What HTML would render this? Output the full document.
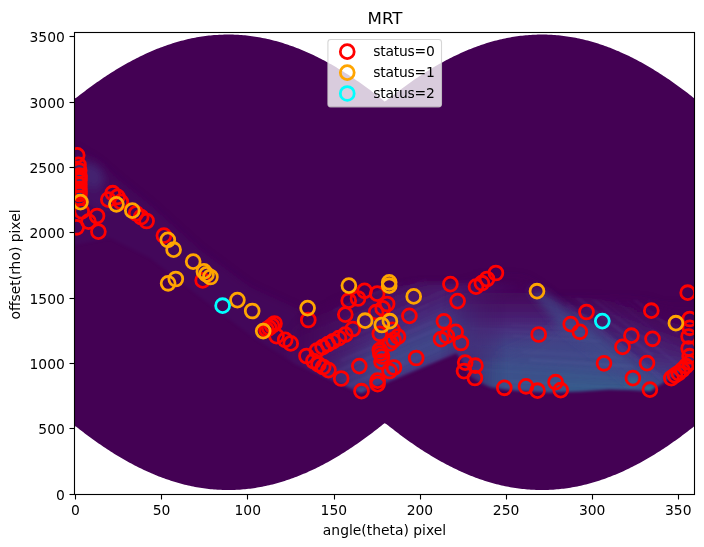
<!DOCTYPE html>
<html><head><meta charset="utf-8"><title>MRT</title>
<style>
html,body{margin:0;padding:0;background:#fff;}
svg{display:block;font-family:"DejaVu Sans","Liberation Sans",sans-serif;}
</style></head><body>
<svg width="704" height="547" viewBox="0 0 704 547">
<defs>
<clipPath id="ax"><rect x="74.5" y="32.5" width="620" height="462"/></clipPath>
<clipPath id="reg"><path d="M74.50,98.52 L76.22,97.83 L77.94,96.47 L79.67,95.12 L81.39,93.78 L83.11,92.46 L84.83,91.15 L86.56,89.85 L88.28,88.57 L90.00,87.30 L91.72,86.04 L93.44,84.79 L95.17,83.56 L96.89,82.34 L98.61,81.14 L100.33,79.95 L102.06,78.77 L103.78,77.61 L105.50,76.46 L107.22,75.33 L108.94,74.21 L110.67,73.10 L112.39,72.01 L114.11,70.93 L115.83,69.87 L117.56,68.82 L119.28,67.78 L121.00,66.77 L122.72,65.76 L124.44,64.77 L126.17,63.80 L127.89,62.84 L129.61,61.89 L131.33,60.96 L133.06,60.05 L134.78,59.15 L136.50,58.26 L138.22,57.39 L139.94,56.54 L141.67,55.70 L143.39,54.88 L145.11,54.07 L146.83,53.28 L148.56,52.51 L150.28,51.75 L152.00,51.00 L153.72,50.28 L155.44,49.56 L157.17,48.87 L158.89,48.19 L160.61,47.52 L162.33,46.88 L164.06,46.25 L165.78,45.63 L167.50,45.03 L169.22,44.45 L170.94,43.88 L172.67,43.33 L174.39,42.80 L176.11,42.28 L177.83,41.78 L179.56,41.29 L181.28,40.83 L183.00,40.38 L184.72,39.94 L186.44,39.52 L188.17,39.12 L189.89,38.74 L191.61,38.37 L193.33,38.02 L195.06,37.69 L196.78,37.37 L198.50,37.07 L200.22,36.78 L201.94,36.52 L203.67,36.27 L205.39,36.03 L207.11,35.82 L208.83,35.62 L210.56,35.44 L212.28,35.27 L214.00,35.12 L215.72,34.99 L217.44,34.88 L219.17,34.78 L220.89,34.70 L222.61,34.64 L224.33,34.59 L226.06,34.56 L227.78,34.55 L229.50,34.55 L231.22,34.58 L232.94,34.62 L234.67,34.67 L236.39,34.75 L238.11,34.84 L239.83,34.94 L241.56,35.07 L243.28,35.21 L245.00,35.37 L246.72,35.54 L248.44,35.73 L250.17,35.94 L251.89,36.17 L253.61,36.41 L255.33,36.67 L257.06,36.95 L258.78,37.24 L260.50,37.55 L262.22,37.88 L263.94,38.22 L265.67,38.58 L267.39,38.96 L269.11,39.35 L270.83,39.76 L272.56,40.19 L274.28,40.64 L276.00,41.10 L277.72,41.57 L279.44,42.07 L281.17,42.58 L282.89,43.11 L284.61,43.65 L286.33,44.21 L288.06,44.78 L289.78,45.38 L291.50,45.98 L293.22,46.61 L294.94,47.25 L296.67,47.91 L298.39,48.58 L300.11,49.27 L301.83,49.98 L303.56,50.70 L305.28,51.43 L307.00,52.19 L308.72,52.95 L310.44,53.74 L312.17,54.54 L313.89,55.35 L315.61,56.19 L317.33,57.03 L319.06,57.89 L320.78,58.77 L322.50,59.66 L324.22,60.57 L325.94,61.50 L327.67,62.43 L329.39,63.39 L331.11,64.36 L332.83,65.34 L334.56,66.34 L336.28,67.35 L338.00,68.38 L339.72,69.42 L341.44,70.48 L343.17,71.55 L344.89,72.63 L346.61,73.73 L348.33,74.85 L350.06,75.98 L351.78,77.12 L353.50,78.27 L355.22,79.45 L356.94,80.63 L358.67,81.83 L360.39,83.04 L362.11,84.26 L363.83,85.50 L365.56,86.75 L367.28,88.02 L369.00,89.30 L370.72,90.59 L372.44,91.89 L374.17,93.21 L375.89,94.54 L377.61,95.89 L379.33,97.24 L381.06,98.61 L382.78,99.99 L384.50,101.38 L386.22,100.69 L387.94,99.30 L389.67,97.92 L391.39,96.56 L393.11,95.21 L394.83,93.88 L396.56,92.55 L398.28,91.24 L400.00,89.94 L401.72,88.66 L403.44,87.39 L405.17,86.13 L406.89,84.88 L408.61,83.65 L410.33,82.43 L412.06,81.23 L413.78,80.04 L415.50,78.86 L417.22,77.69 L418.94,76.55 L420.67,75.41 L422.39,74.29 L424.11,73.18 L425.83,72.09 L427.56,71.01 L429.28,69.95 L431.00,68.90 L432.72,67.86 L434.44,66.84 L436.17,65.84 L437.89,64.85 L439.61,63.87 L441.33,62.91 L443.06,61.96 L444.78,61.03 L446.50,60.12 L448.22,59.22 L449.94,58.33 L451.67,57.46 L453.39,56.61 L455.11,55.77 L456.83,54.94 L458.56,54.14 L460.28,53.34 L462.00,52.57 L463.72,51.81 L465.44,51.06 L467.17,50.33 L468.89,49.62 L470.61,48.92 L472.33,48.24 L474.06,47.58 L475.78,46.93 L477.50,46.30 L479.22,45.68 L480.94,45.08 L482.67,44.49 L484.39,43.93 L486.11,43.37 L487.83,42.84 L489.56,42.32 L491.28,41.82 L493.00,41.33 L494.72,40.86 L496.44,40.41 L498.17,39.98 L499.89,39.56 L501.61,39.15 L503.33,38.77 L505.06,38.40 L506.78,38.05 L508.50,37.71 L510.22,37.39 L511.94,37.09 L513.67,36.81 L515.39,36.54 L517.11,36.29 L518.83,36.05 L520.56,35.84 L522.28,35.63 L524.00,35.45 L525.72,35.28 L527.44,35.13 L529.17,35.00 L530.89,34.89 L532.61,34.79 L534.33,34.71 L536.06,34.64 L537.78,34.59 L539.50,34.56 L541.22,34.55 L542.94,34.55 L544.67,34.57 L546.39,34.61 L548.11,34.67 L549.83,34.74 L551.56,34.83 L553.28,34.93 L555.00,35.06 L556.72,35.20 L558.44,35.35 L560.17,35.53 L561.89,35.72 L563.61,35.92 L565.33,36.15 L567.06,36.39 L568.78,36.65 L570.50,36.92 L572.22,37.22 L573.94,37.52 L575.67,37.85 L577.39,38.19 L579.11,38.55 L580.83,38.93 L582.56,39.32 L584.28,39.73 L586.00,40.16 L587.72,40.60 L589.44,41.06 L591.17,41.54 L592.89,42.03 L594.61,42.54 L596.33,43.06 L598.06,43.60 L599.78,44.16 L601.50,44.74 L603.22,45.33 L604.94,45.94 L606.67,46.56 L608.39,47.20 L610.11,47.85 L611.83,48.53 L613.56,49.21 L615.28,49.92 L617.00,50.64 L618.72,51.37 L620.44,52.13 L622.17,52.89 L623.89,53.68 L625.61,54.48 L627.33,55.29 L629.06,56.12 L630.78,56.97 L632.50,57.83 L634.22,58.70 L635.94,59.60 L637.67,60.50 L639.39,61.42 L641.11,62.36 L642.83,63.31 L644.56,64.28 L646.28,65.26 L648.00,66.26 L649.72,67.27 L651.44,68.30 L653.17,69.34 L654.89,70.40 L656.61,71.47 L658.33,72.55 L660.06,73.65 L661.78,74.76 L663.50,75.89 L665.22,77.03 L666.94,78.19 L668.67,79.36 L670.39,80.54 L672.11,81.74 L673.83,82.95 L675.56,84.18 L677.28,85.41 L679.00,86.67 L680.72,87.93 L682.44,89.21 L684.17,90.50 L685.89,91.80 L687.61,93.12 L689.33,94.45 L691.06,95.79 L692.78,97.15 L694.50,98.52 L694.50,426.05 L692.78,427.42 L691.06,428.78 L689.33,430.12 L687.61,431.45 L685.89,432.77 L684.17,434.07 L682.44,435.36 L680.72,436.64 L679.00,437.90 L677.28,439.16 L675.56,440.39 L673.83,441.62 L672.11,442.83 L670.39,444.03 L668.67,445.21 L666.94,446.38 L665.22,447.54 L663.50,448.68 L661.78,449.80 L660.06,450.92 L658.33,452.02 L656.61,453.10 L654.89,454.17 L653.17,455.23 L651.44,456.27 L649.72,457.30 L648.00,458.31 L646.28,459.31 L644.56,460.29 L642.83,461.26 L641.11,462.21 L639.39,463.15 L637.67,464.07 L635.94,464.97 L634.22,465.87 L632.50,466.74 L630.78,467.60 L629.06,468.45 L627.33,469.28 L625.61,470.09 L623.89,470.89 L622.17,471.68 L620.44,472.44 L618.72,473.20 L617.00,473.93 L615.28,474.65 L613.56,475.36 L611.83,476.04 L610.11,476.72 L608.39,477.37 L606.67,478.01 L604.94,478.63 L603.22,479.24 L601.50,479.83 L599.78,480.41 L598.06,480.97 L596.33,481.51 L594.61,482.03 L592.89,482.54 L591.17,483.03 L589.44,483.51 L587.72,483.97 L586.00,484.41 L584.28,484.84 L582.56,485.25 L580.83,485.64 L579.11,486.02 L577.39,486.38 L575.67,486.72 L573.94,487.05 L572.22,487.35 L570.50,487.65 L568.78,487.92 L567.06,488.18 L565.33,488.42 L563.61,488.65 L561.89,488.85 L560.17,489.04 L558.44,489.22 L556.72,489.37 L555.00,489.51 L553.28,489.64 L551.56,489.74 L549.83,489.83 L548.11,489.90 L546.39,489.96 L544.67,490.00 L542.94,490.02 L541.22,490.02 L539.50,490.01 L537.78,489.98 L536.06,489.93 L534.33,489.86 L532.61,489.78 L530.89,489.68 L529.17,489.57 L527.44,489.43 L525.72,489.29 L524.00,489.12 L522.28,488.94 L520.56,488.73 L518.83,488.52 L517.11,488.28 L515.39,488.03 L513.67,487.76 L511.94,487.48 L510.22,487.18 L508.50,486.86 L506.78,486.52 L505.06,486.17 L503.33,485.80 L501.61,485.42 L499.89,485.01 L498.17,484.59 L496.44,484.16 L494.72,483.71 L493.00,483.24 L491.28,482.75 L489.56,482.25 L487.83,481.73 L486.11,481.19 L484.39,480.64 L482.67,480.08 L480.94,479.49 L479.22,478.89 L477.50,478.27 L475.78,477.64 L474.06,476.99 L472.33,476.33 L470.61,475.65 L468.89,474.95 L467.17,474.24 L465.44,473.51 L463.72,472.76 L462.00,472.00 L460.28,471.22 L458.56,470.43 L456.83,469.62 L455.11,468.80 L453.39,467.96 L451.67,467.11 L449.94,466.24 L448.22,465.35 L446.50,464.45 L444.78,463.54 L443.06,462.61 L441.33,461.66 L439.61,460.70 L437.89,459.72 L436.17,458.73 L434.44,457.73 L432.72,456.71 L431.00,455.67 L429.28,454.62 L427.56,453.56 L425.83,452.48 L424.11,451.39 L422.39,450.28 L420.67,449.16 L418.94,448.02 L417.22,446.88 L415.50,445.71 L413.78,444.53 L412.06,443.34 L410.33,442.14 L408.61,440.92 L406.89,439.69 L405.17,438.44 L403.44,437.18 L401.72,435.91 L400.00,434.63 L398.28,433.33 L396.56,432.02 L394.83,430.69 L393.11,429.36 L391.39,428.01 L389.67,426.65 L387.94,425.27 L386.22,423.88 L384.50,423.19 L382.78,424.58 L381.06,425.96 L379.33,427.33 L377.61,428.68 L375.89,430.03 L374.17,431.36 L372.44,432.68 L370.72,433.98 L369.00,435.27 L367.28,436.55 L365.56,437.82 L363.83,439.07 L362.11,440.31 L360.39,441.53 L358.67,442.74 L356.94,443.94 L355.22,445.12 L353.50,446.30 L351.78,447.45 L350.06,448.59 L348.33,449.72 L346.61,450.84 L344.89,451.94 L343.17,453.02 L341.44,454.09 L339.72,455.15 L338.00,456.19 L336.28,457.22 L334.56,458.23 L332.83,459.23 L331.11,460.21 L329.39,461.18 L327.67,462.14 L325.94,463.07 L324.22,464.00 L322.50,464.91 L320.78,465.80 L319.06,466.68 L317.33,467.54 L315.61,468.38 L313.89,469.22 L312.17,470.03 L310.44,470.83 L308.72,471.62 L307.00,472.38 L305.28,473.14 L303.56,473.87 L301.83,474.59 L300.11,475.30 L298.39,475.99 L296.67,476.66 L294.94,477.32 L293.22,477.96 L291.50,478.58 L289.78,479.19 L288.06,479.79 L286.33,480.36 L284.61,480.92 L282.89,481.46 L281.17,481.99 L279.44,482.50 L277.72,483.00 L276.00,483.47 L274.28,483.93 L272.56,484.38 L270.83,484.81 L269.11,485.22 L267.39,485.61 L265.67,485.99 L263.94,486.35 L262.22,486.69 L260.50,487.02 L258.78,487.33 L257.06,487.62 L255.33,487.90 L253.61,488.16 L251.89,488.40 L250.17,488.63 L248.44,488.84 L246.72,489.03 L245.00,489.20 L243.28,489.36 L241.56,489.50 L239.83,489.63 L238.11,489.73 L236.39,489.82 L234.67,489.90 L232.94,489.95 L231.22,489.99 L229.50,490.01 L227.78,490.02 L226.06,490.01 L224.33,489.98 L222.61,489.93 L220.89,489.87 L219.17,489.79 L217.44,489.69 L215.72,489.58 L214.00,489.45 L212.28,489.30 L210.56,489.13 L208.83,488.95 L207.11,488.75 L205.39,488.54 L203.67,488.30 L201.94,488.05 L200.22,487.79 L198.50,487.50 L196.78,487.20 L195.06,486.88 L193.33,486.55 L191.61,486.20 L189.89,485.83 L188.17,485.45 L186.44,485.05 L184.72,484.63 L183.00,484.19 L181.28,483.74 L179.56,483.27 L177.83,482.79 L176.11,482.29 L174.39,481.77 L172.67,481.24 L170.94,480.69 L169.22,480.12 L167.50,479.54 L165.78,478.94 L164.06,478.32 L162.33,477.69 L160.61,477.05 L158.89,476.38 L157.17,475.70 L155.44,475.01 L153.72,474.29 L152.00,473.57 L150.28,472.82 L148.56,472.06 L146.83,471.29 L145.11,470.50 L143.39,469.69 L141.67,468.87 L139.94,468.03 L138.22,467.18 L136.50,466.31 L134.78,465.42 L133.06,464.52 L131.33,463.61 L129.61,462.68 L127.89,461.73 L126.17,460.77 L124.44,459.80 L122.72,458.81 L121.00,457.80 L119.28,456.79 L117.56,455.75 L115.83,454.70 L114.11,453.64 L112.39,452.56 L110.67,451.47 L108.94,450.36 L107.22,449.24 L105.50,448.11 L103.78,446.96 L102.06,445.80 L100.33,444.62 L98.61,443.43 L96.89,442.23 L95.17,441.01 L93.44,439.78 L91.72,438.53 L90.00,437.27 L88.28,436.00 L86.56,434.72 L84.83,433.42 L83.11,432.11 L81.39,430.79 L79.67,429.45 L77.94,428.10 L76.22,426.74 L74.50,426.05Z"/></clipPath>
<mask id="sharpm" maskUnits="userSpaceOnUse" x="0" y="0" width="704" height="547"><polygon points="74.5,0.0 694.5,0.0 694.5,363.0 650.0,391.2 630.0,390.0 609.0,389.5 580.0,391.5 550.0,392.5 520.0,391.0 505.0,389.5 490.0,387.3 485.0,385.0 478.0,381.5 471.0,377.0 465.0,367.0 456.6,353.2 361.0,393.5 295.0,364.0 250.0,335.0 200.0,297.0 150.0,258.0 110.0,238.0 74.5,245.0" fill="#fff" filter="url(#b1)"/></mask>

<linearGradient id="gR2m" gradientUnits="userSpaceOnUse" x1="0" y1="294" x2="0" y2="340"><stop offset="0" stop-color="#fff" stop-opacity="0"/><stop offset="1" stop-color="#fff" stop-opacity="1"/></linearGradient>
<mask id="mR2" maskUnits="userSpaceOnUse" x="0" y="0" width="704" height="547"><rect x="0" y="0" width="704" height="547" fill="url(#gR2m)"/></mask>
<linearGradient id="gMm" gradientUnits="userSpaceOnUse" x1="446" y1="0" x2="506" y2="0"><stop offset="0" stop-color="#fff" stop-opacity="0.1"/><stop offset="1" stop-color="#fff" stop-opacity="1"/></linearGradient>
<mask id="mM" maskUnits="userSpaceOnUse" x="0" y="0" width="704" height="547"><rect x="0" y="0" width="704" height="547" fill="url(#gMm)"/></mask>
<linearGradient id="gWm" gradientUnits="userSpaceOnUse" x1="288" y1="0" x2="520" y2="0"><stop offset="0" stop-color="#fff" stop-opacity="0.15"/><stop offset="0.4" stop-color="#fff" stop-opacity="1"/><stop offset="0.66" stop-color="#fff" stop-opacity="1"/><stop offset="1" stop-color="#fff" stop-opacity="0"/></linearGradient>
<mask id="mW" maskUnits="userSpaceOnUse" x="0" y="0" width="704" height="547"><rect x="0" y="0" width="704" height="547" fill="url(#gWm)"/></mask>
<linearGradient id="gW" gradientUnits="userSpaceOnUse" x1="380" y1="280" x2="422.6" y2="381.4">
<stop offset="0" stop-color="#460a5d" stop-opacity="0"/><stop offset="0.16" stop-color="#470f62" stop-opacity="1"/><stop offset="0.32" stop-color="#481b6d" stop-opacity="1"/><stop offset="0.46" stop-color="#472a7a" stop-opacity="1"/><stop offset="0.58" stop-color="#433b84" stop-opacity="1"/><stop offset="0.70" stop-color="#3f4688" stop-opacity="1"/><stop offset="0.80" stop-color="#404387" stop-opacity="1"/><stop offset="0.89" stop-color="#453681" stop-opacity="1"/><stop offset="1" stop-color="#482475" stop-opacity="1"/>
</linearGradient>
<linearGradient id="gM" gradientUnits="userSpaceOnUse" x1="0" y1="278" x2="0" y2="393">
<stop offset="0" stop-color="#440154" stop-opacity="0"/><stop offset="0.16" stop-color="#460a5d" stop-opacity="1"/><stop offset="0.29" stop-color="#47186a" stop-opacity="1"/><stop offset="0.42" stop-color="#48287a" stop-opacity="1"/><stop offset="0.52" stop-color="#443a83" stop-opacity="1"/><stop offset="0.63" stop-color="#3f4688" stop-opacity="1"/><stop offset="0.8" stop-color="#3d4c8a" stop-opacity="1"/><stop offset="1" stop-color="#3d4c8a" stop-opacity="1"/>
</linearGradient>
<linearGradient id="gR" gradientUnits="userSpaceOnUse" x1="0" y1="300" x2="0" y2="393">
<stop offset="0" stop-color="#440154" stop-opacity="0"/><stop offset="0.4" stop-color="#481467" stop-opacity="0.5"/><stop offset="0.6" stop-color="#482475" stop-opacity="0.7"/><stop offset="0.75" stop-color="#453781" stop-opacity="0.8"/><stop offset="0.88" stop-color="#404588" stop-opacity="0.9"/><stop offset="1" stop-color="#3d4d8a" stop-opacity="1"/>
</linearGradient>
<linearGradient id="gR2" gradientUnits="userSpaceOnUse" x1="600" y1="340" x2="642.8" y2="284.6">
<stop offset="0" stop-color="#433d84" stop-opacity="1"/><stop offset="0.2" stop-color="#46307e" stop-opacity="1"/><stop offset="0.5" stop-color="#482173" stop-opacity="0.9"/><stop offset="0.8" stop-color="#470d60" stop-opacity="0.6"/><stop offset="1" stop-color="#440154" stop-opacity="0"/>
</linearGradient>

<filter id="b05" x="-5%" y="-5%" width="110%" height="110%"><feGaussianBlur stdDeviation="1.0"/></filter>
<filter id="b1" x="-5%" y="-5%" width="110%" height="110%"><feGaussianBlur stdDeviation="1.8"/></filter>
<filter id="b2" x="-30%" y="-30%" width="160%" height="160%"><feGaussianBlur stdDeviation="2"/></filter>
<filter id="b3" x="-10%" y="-10%" width="120%" height="120%"><feGaussianBlur stdDeviation="3"/></filter>
<filter id="b6" x="-10%" y="-10%" width="120%" height="120%"><feGaussianBlur stdDeviation="6"/></filter>
<filter id="b4" x="-10%" y="-10%" width="120%" height="120%"><feGaussianBlur stdDeviation="4"/></filter>
<filter id="b8" x="-20%" y="-20%" width="140%" height="140%"><feGaussianBlur stdDeviation="8"/></filter>
</defs>
<rect width="704" height="547" fill="#ffffff"/>
<g clip-path="url(#ax)">
<path d="M74.50,98.52 L76.22,97.83 L77.94,96.47 L79.67,95.12 L81.39,93.78 L83.11,92.46 L84.83,91.15 L86.56,89.85 L88.28,88.57 L90.00,87.30 L91.72,86.04 L93.44,84.79 L95.17,83.56 L96.89,82.34 L98.61,81.14 L100.33,79.95 L102.06,78.77 L103.78,77.61 L105.50,76.46 L107.22,75.33 L108.94,74.21 L110.67,73.10 L112.39,72.01 L114.11,70.93 L115.83,69.87 L117.56,68.82 L119.28,67.78 L121.00,66.77 L122.72,65.76 L124.44,64.77 L126.17,63.80 L127.89,62.84 L129.61,61.89 L131.33,60.96 L133.06,60.05 L134.78,59.15 L136.50,58.26 L138.22,57.39 L139.94,56.54 L141.67,55.70 L143.39,54.88 L145.11,54.07 L146.83,53.28 L148.56,52.51 L150.28,51.75 L152.00,51.00 L153.72,50.28 L155.44,49.56 L157.17,48.87 L158.89,48.19 L160.61,47.52 L162.33,46.88 L164.06,46.25 L165.78,45.63 L167.50,45.03 L169.22,44.45 L170.94,43.88 L172.67,43.33 L174.39,42.80 L176.11,42.28 L177.83,41.78 L179.56,41.29 L181.28,40.83 L183.00,40.38 L184.72,39.94 L186.44,39.52 L188.17,39.12 L189.89,38.74 L191.61,38.37 L193.33,38.02 L195.06,37.69 L196.78,37.37 L198.50,37.07 L200.22,36.78 L201.94,36.52 L203.67,36.27 L205.39,36.03 L207.11,35.82 L208.83,35.62 L210.56,35.44 L212.28,35.27 L214.00,35.12 L215.72,34.99 L217.44,34.88 L219.17,34.78 L220.89,34.70 L222.61,34.64 L224.33,34.59 L226.06,34.56 L227.78,34.55 L229.50,34.55 L231.22,34.58 L232.94,34.62 L234.67,34.67 L236.39,34.75 L238.11,34.84 L239.83,34.94 L241.56,35.07 L243.28,35.21 L245.00,35.37 L246.72,35.54 L248.44,35.73 L250.17,35.94 L251.89,36.17 L253.61,36.41 L255.33,36.67 L257.06,36.95 L258.78,37.24 L260.50,37.55 L262.22,37.88 L263.94,38.22 L265.67,38.58 L267.39,38.96 L269.11,39.35 L270.83,39.76 L272.56,40.19 L274.28,40.64 L276.00,41.10 L277.72,41.57 L279.44,42.07 L281.17,42.58 L282.89,43.11 L284.61,43.65 L286.33,44.21 L288.06,44.78 L289.78,45.38 L291.50,45.98 L293.22,46.61 L294.94,47.25 L296.67,47.91 L298.39,48.58 L300.11,49.27 L301.83,49.98 L303.56,50.70 L305.28,51.43 L307.00,52.19 L308.72,52.95 L310.44,53.74 L312.17,54.54 L313.89,55.35 L315.61,56.19 L317.33,57.03 L319.06,57.89 L320.78,58.77 L322.50,59.66 L324.22,60.57 L325.94,61.50 L327.67,62.43 L329.39,63.39 L331.11,64.36 L332.83,65.34 L334.56,66.34 L336.28,67.35 L338.00,68.38 L339.72,69.42 L341.44,70.48 L343.17,71.55 L344.89,72.63 L346.61,73.73 L348.33,74.85 L350.06,75.98 L351.78,77.12 L353.50,78.27 L355.22,79.45 L356.94,80.63 L358.67,81.83 L360.39,83.04 L362.11,84.26 L363.83,85.50 L365.56,86.75 L367.28,88.02 L369.00,89.30 L370.72,90.59 L372.44,91.89 L374.17,93.21 L375.89,94.54 L377.61,95.89 L379.33,97.24 L381.06,98.61 L382.78,99.99 L384.50,101.38 L386.22,100.69 L387.94,99.30 L389.67,97.92 L391.39,96.56 L393.11,95.21 L394.83,93.88 L396.56,92.55 L398.28,91.24 L400.00,89.94 L401.72,88.66 L403.44,87.39 L405.17,86.13 L406.89,84.88 L408.61,83.65 L410.33,82.43 L412.06,81.23 L413.78,80.04 L415.50,78.86 L417.22,77.69 L418.94,76.55 L420.67,75.41 L422.39,74.29 L424.11,73.18 L425.83,72.09 L427.56,71.01 L429.28,69.95 L431.00,68.90 L432.72,67.86 L434.44,66.84 L436.17,65.84 L437.89,64.85 L439.61,63.87 L441.33,62.91 L443.06,61.96 L444.78,61.03 L446.50,60.12 L448.22,59.22 L449.94,58.33 L451.67,57.46 L453.39,56.61 L455.11,55.77 L456.83,54.94 L458.56,54.14 L460.28,53.34 L462.00,52.57 L463.72,51.81 L465.44,51.06 L467.17,50.33 L468.89,49.62 L470.61,48.92 L472.33,48.24 L474.06,47.58 L475.78,46.93 L477.50,46.30 L479.22,45.68 L480.94,45.08 L482.67,44.49 L484.39,43.93 L486.11,43.37 L487.83,42.84 L489.56,42.32 L491.28,41.82 L493.00,41.33 L494.72,40.86 L496.44,40.41 L498.17,39.98 L499.89,39.56 L501.61,39.15 L503.33,38.77 L505.06,38.40 L506.78,38.05 L508.50,37.71 L510.22,37.39 L511.94,37.09 L513.67,36.81 L515.39,36.54 L517.11,36.29 L518.83,36.05 L520.56,35.84 L522.28,35.63 L524.00,35.45 L525.72,35.28 L527.44,35.13 L529.17,35.00 L530.89,34.89 L532.61,34.79 L534.33,34.71 L536.06,34.64 L537.78,34.59 L539.50,34.56 L541.22,34.55 L542.94,34.55 L544.67,34.57 L546.39,34.61 L548.11,34.67 L549.83,34.74 L551.56,34.83 L553.28,34.93 L555.00,35.06 L556.72,35.20 L558.44,35.35 L560.17,35.53 L561.89,35.72 L563.61,35.92 L565.33,36.15 L567.06,36.39 L568.78,36.65 L570.50,36.92 L572.22,37.22 L573.94,37.52 L575.67,37.85 L577.39,38.19 L579.11,38.55 L580.83,38.93 L582.56,39.32 L584.28,39.73 L586.00,40.16 L587.72,40.60 L589.44,41.06 L591.17,41.54 L592.89,42.03 L594.61,42.54 L596.33,43.06 L598.06,43.60 L599.78,44.16 L601.50,44.74 L603.22,45.33 L604.94,45.94 L606.67,46.56 L608.39,47.20 L610.11,47.85 L611.83,48.53 L613.56,49.21 L615.28,49.92 L617.00,50.64 L618.72,51.37 L620.44,52.13 L622.17,52.89 L623.89,53.68 L625.61,54.48 L627.33,55.29 L629.06,56.12 L630.78,56.97 L632.50,57.83 L634.22,58.70 L635.94,59.60 L637.67,60.50 L639.39,61.42 L641.11,62.36 L642.83,63.31 L644.56,64.28 L646.28,65.26 L648.00,66.26 L649.72,67.27 L651.44,68.30 L653.17,69.34 L654.89,70.40 L656.61,71.47 L658.33,72.55 L660.06,73.65 L661.78,74.76 L663.50,75.89 L665.22,77.03 L666.94,78.19 L668.67,79.36 L670.39,80.54 L672.11,81.74 L673.83,82.95 L675.56,84.18 L677.28,85.41 L679.00,86.67 L680.72,87.93 L682.44,89.21 L684.17,90.50 L685.89,91.80 L687.61,93.12 L689.33,94.45 L691.06,95.79 L692.78,97.15 L694.50,98.52 L694.50,426.05 L692.78,427.42 L691.06,428.78 L689.33,430.12 L687.61,431.45 L685.89,432.77 L684.17,434.07 L682.44,435.36 L680.72,436.64 L679.00,437.90 L677.28,439.16 L675.56,440.39 L673.83,441.62 L672.11,442.83 L670.39,444.03 L668.67,445.21 L666.94,446.38 L665.22,447.54 L663.50,448.68 L661.78,449.80 L660.06,450.92 L658.33,452.02 L656.61,453.10 L654.89,454.17 L653.17,455.23 L651.44,456.27 L649.72,457.30 L648.00,458.31 L646.28,459.31 L644.56,460.29 L642.83,461.26 L641.11,462.21 L639.39,463.15 L637.67,464.07 L635.94,464.97 L634.22,465.87 L632.50,466.74 L630.78,467.60 L629.06,468.45 L627.33,469.28 L625.61,470.09 L623.89,470.89 L622.17,471.68 L620.44,472.44 L618.72,473.20 L617.00,473.93 L615.28,474.65 L613.56,475.36 L611.83,476.04 L610.11,476.72 L608.39,477.37 L606.67,478.01 L604.94,478.63 L603.22,479.24 L601.50,479.83 L599.78,480.41 L598.06,480.97 L596.33,481.51 L594.61,482.03 L592.89,482.54 L591.17,483.03 L589.44,483.51 L587.72,483.97 L586.00,484.41 L584.28,484.84 L582.56,485.25 L580.83,485.64 L579.11,486.02 L577.39,486.38 L575.67,486.72 L573.94,487.05 L572.22,487.35 L570.50,487.65 L568.78,487.92 L567.06,488.18 L565.33,488.42 L563.61,488.65 L561.89,488.85 L560.17,489.04 L558.44,489.22 L556.72,489.37 L555.00,489.51 L553.28,489.64 L551.56,489.74 L549.83,489.83 L548.11,489.90 L546.39,489.96 L544.67,490.00 L542.94,490.02 L541.22,490.02 L539.50,490.01 L537.78,489.98 L536.06,489.93 L534.33,489.86 L532.61,489.78 L530.89,489.68 L529.17,489.57 L527.44,489.43 L525.72,489.29 L524.00,489.12 L522.28,488.94 L520.56,488.73 L518.83,488.52 L517.11,488.28 L515.39,488.03 L513.67,487.76 L511.94,487.48 L510.22,487.18 L508.50,486.86 L506.78,486.52 L505.06,486.17 L503.33,485.80 L501.61,485.42 L499.89,485.01 L498.17,484.59 L496.44,484.16 L494.72,483.71 L493.00,483.24 L491.28,482.75 L489.56,482.25 L487.83,481.73 L486.11,481.19 L484.39,480.64 L482.67,480.08 L480.94,479.49 L479.22,478.89 L477.50,478.27 L475.78,477.64 L474.06,476.99 L472.33,476.33 L470.61,475.65 L468.89,474.95 L467.17,474.24 L465.44,473.51 L463.72,472.76 L462.00,472.00 L460.28,471.22 L458.56,470.43 L456.83,469.62 L455.11,468.80 L453.39,467.96 L451.67,467.11 L449.94,466.24 L448.22,465.35 L446.50,464.45 L444.78,463.54 L443.06,462.61 L441.33,461.66 L439.61,460.70 L437.89,459.72 L436.17,458.73 L434.44,457.73 L432.72,456.71 L431.00,455.67 L429.28,454.62 L427.56,453.56 L425.83,452.48 L424.11,451.39 L422.39,450.28 L420.67,449.16 L418.94,448.02 L417.22,446.88 L415.50,445.71 L413.78,444.53 L412.06,443.34 L410.33,442.14 L408.61,440.92 L406.89,439.69 L405.17,438.44 L403.44,437.18 L401.72,435.91 L400.00,434.63 L398.28,433.33 L396.56,432.02 L394.83,430.69 L393.11,429.36 L391.39,428.01 L389.67,426.65 L387.94,425.27 L386.22,423.88 L384.50,423.19 L382.78,424.58 L381.06,425.96 L379.33,427.33 L377.61,428.68 L375.89,430.03 L374.17,431.36 L372.44,432.68 L370.72,433.98 L369.00,435.27 L367.28,436.55 L365.56,437.82 L363.83,439.07 L362.11,440.31 L360.39,441.53 L358.67,442.74 L356.94,443.94 L355.22,445.12 L353.50,446.30 L351.78,447.45 L350.06,448.59 L348.33,449.72 L346.61,450.84 L344.89,451.94 L343.17,453.02 L341.44,454.09 L339.72,455.15 L338.00,456.19 L336.28,457.22 L334.56,458.23 L332.83,459.23 L331.11,460.21 L329.39,461.18 L327.67,462.14 L325.94,463.07 L324.22,464.00 L322.50,464.91 L320.78,465.80 L319.06,466.68 L317.33,467.54 L315.61,468.38 L313.89,469.22 L312.17,470.03 L310.44,470.83 L308.72,471.62 L307.00,472.38 L305.28,473.14 L303.56,473.87 L301.83,474.59 L300.11,475.30 L298.39,475.99 L296.67,476.66 L294.94,477.32 L293.22,477.96 L291.50,478.58 L289.78,479.19 L288.06,479.79 L286.33,480.36 L284.61,480.92 L282.89,481.46 L281.17,481.99 L279.44,482.50 L277.72,483.00 L276.00,483.47 L274.28,483.93 L272.56,484.38 L270.83,484.81 L269.11,485.22 L267.39,485.61 L265.67,485.99 L263.94,486.35 L262.22,486.69 L260.50,487.02 L258.78,487.33 L257.06,487.62 L255.33,487.90 L253.61,488.16 L251.89,488.40 L250.17,488.63 L248.44,488.84 L246.72,489.03 L245.00,489.20 L243.28,489.36 L241.56,489.50 L239.83,489.63 L238.11,489.73 L236.39,489.82 L234.67,489.90 L232.94,489.95 L231.22,489.99 L229.50,490.01 L227.78,490.02 L226.06,490.01 L224.33,489.98 L222.61,489.93 L220.89,489.87 L219.17,489.79 L217.44,489.69 L215.72,489.58 L214.00,489.45 L212.28,489.30 L210.56,489.13 L208.83,488.95 L207.11,488.75 L205.39,488.54 L203.67,488.30 L201.94,488.05 L200.22,487.79 L198.50,487.50 L196.78,487.20 L195.06,486.88 L193.33,486.55 L191.61,486.20 L189.89,485.83 L188.17,485.45 L186.44,485.05 L184.72,484.63 L183.00,484.19 L181.28,483.74 L179.56,483.27 L177.83,482.79 L176.11,482.29 L174.39,481.77 L172.67,481.24 L170.94,480.69 L169.22,480.12 L167.50,479.54 L165.78,478.94 L164.06,478.32 L162.33,477.69 L160.61,477.05 L158.89,476.38 L157.17,475.70 L155.44,475.01 L153.72,474.29 L152.00,473.57 L150.28,472.82 L148.56,472.06 L146.83,471.29 L145.11,470.50 L143.39,469.69 L141.67,468.87 L139.94,468.03 L138.22,467.18 L136.50,466.31 L134.78,465.42 L133.06,464.52 L131.33,463.61 L129.61,462.68 L127.89,461.73 L126.17,460.77 L124.44,459.80 L122.72,458.81 L121.00,457.80 L119.28,456.79 L117.56,455.75 L115.83,454.70 L114.11,453.64 L112.39,452.56 L110.67,451.47 L108.94,450.36 L107.22,449.24 L105.50,448.11 L103.78,446.96 L102.06,445.80 L100.33,444.62 L98.61,443.43 L96.89,442.23 L95.17,441.01 L93.44,439.78 L91.72,438.53 L90.00,437.27 L88.28,436.00 L86.56,434.72 L84.83,433.42 L83.11,432.11 L81.39,430.79 L79.67,429.45 L77.94,428.10 L76.22,426.74 L74.50,426.05Z" fill="#440154"/>

<g mask="url(#sharpm)">
<g filter="url(#b4)">
<polygon points="74.5,148.0 95.0,160.0 120.0,181.0 150.0,205.0 200.0,250.0 250.0,287.0 300.0,310.0 300.0,380.0 250.0,350.0 200.0,310.0 150.0,270.0 110.0,250.0 60.0,255.0 60.0,148.0" fill="#472a7a" opacity="0.16"/>
<ellipse cx="92" cy="176" rx="11" ry="14" fill="#453781" opacity="0.55" transform="rotate(-35 92 176)"/>
<ellipse cx="78" cy="182" rx="4" ry="24" fill="#3e4989" opacity="0.9"/>
<ellipse cx="100" cy="200" rx="18" ry="9" fill="#472a7a" opacity="0.3" transform="rotate(25 100 200)"/>
</g>
<g filter="url(#b3)" mask="url(#mW)">
<polygon points="290.0,380.0 361.0,410.0 470.0,372.0 530.0,410.0 530.0,283.0 420.0,283.0 350.0,293.0 300.0,318.0 285.0,340.0" fill="url(#gW)"/>
</g>
<g filter="url(#b3)">
<polygon points="536,290 700,417 720,417 720,290" fill="url(#gR2)" mask="url(#mR2)"/>
<polygon points="480.0,283.0 560.0,430.0 720.0,430.0 720.0,296.0 600.0,298.0 540.0,286.0" fill="url(#gR)"/>
</g>
<g mask="url(#mM)">
<g filter="url(#b6)">
<polygon points="452.0,330.0 452.0,430.0 700.0,430.0 676.0,398.0 510.0,270.0 480.0,280.0 456.0,288.0" fill="url(#gM)"/>
</g>
<g filter="url(#b6)">
<polygon points="482,364 520,364 580,368 630,376 668,396 660,420 474,420" fill="#365d8d" opacity="0.8"/>
<polygon points="556,374 600,376 640,381 668,397 660,420 556,420" fill="#2f6b8e" opacity="0.6"/>
</g>
<g filter="url(#b6)">
<polygon points="500,356 540,340 566,318 588,322 664,392 500,392" fill="#3f4688" opacity="0.45"/>
</g>
</g>
<g filter="url(#b4)">
<polygon points="528,288 545,292 672,392 640,392 600,358 560,328" fill="#3f4889" opacity="0.7"/>
</g>
<g filter="url(#b2)">
<ellipse cx="633" cy="382" rx="7" ry="5" fill="#2d708e" opacity="0.8"/>
<ellipse cx="650" cy="390" rx="7" ry="4" fill="#26828e" opacity="0.9"/>
<ellipse cx="361" cy="391" rx="6" ry="3" fill="#3b5a8c" opacity="0.8"/>
</g>

<clipPath id="cw"><polygon points="300.0,322.0 350.0,292.0 420.0,279.0 458.0,280.0 458.0,354.0 361.0,393.0 295.0,364.0"/></clipPath>
<clipPath id="cm"><polygon points="458.0,290.0 480.0,280.0 510.0,272.0 540.0,294.0 663.0,389.0 650.0,391.0 560.0,392.0 500.0,388.0 478.0,381.0 458.0,354.0"/></clipPath>
<clipPath id="cr"><polygon points="540.0,294.0 600.0,300.0 694.5,300.0 694.5,363.0 650.0,391.0"/></clipPath>
<g stroke="#7a80c8" fill="none" filter="url(#b05)">
<g clip-path="url(#cw)"><line x1="333.4" y1="310.5" x2="455.8" y2="259.1" stroke-opacity="0.06" stroke-width="3.0"/><line x1="348.2" y1="312.1" x2="447.7" y2="270.3" stroke-opacity="0.09" stroke-width="1.0"/><line x1="309.8" y1="332.0" x2="428.4" y2="282.2" stroke-opacity="0.05" stroke-width="1.0"/><line x1="350.4" y1="321.3" x2="423.8" y2="290.5" stroke-opacity="0.07" stroke-width="1.0"/><line x1="298.8" y1="352.6" x2="447.3" y2="290.2" stroke-opacity="0.04" stroke-width="3.0"/><line x1="320.1" y1="350.0" x2="429.0" y2="304.3" stroke-opacity="0.06" stroke-width="2.4"/><line x1="301.9" y1="364.2" x2="427.2" y2="311.6" stroke-opacity="0.07" stroke-width="1.6"/><line x1="328.4" y1="357.3" x2="424.5" y2="317.0" stroke-opacity="0.04" stroke-width="1.0"/><line x1="340.6" y1="360.5" x2="433.3" y2="321.6" stroke-opacity="0.07" stroke-width="3.0"/><line x1="310.3" y1="382.3" x2="449.7" y2="323.8" stroke-opacity="0.09" stroke-width="2.4"/><line x1="326.1" y1="381.3" x2="409.8" y2="346.2" stroke-opacity="0.04" stroke-width="2.4"/><line x1="302.8" y1="397.3" x2="436.0" y2="341.4" stroke-opacity="0.09" stroke-width="1.0"/><line x1="320.2" y1="396.7" x2="404.8" y2="361.1" stroke-opacity="0.06" stroke-width="3.0"/><line x1="315.5" y1="401.0" x2="439.9" y2="348.8" stroke-opacity="0.07" stroke-width="2.4"/><line x1="344.2" y1="398.0" x2="405.8" y2="372.2" stroke-opacity="0.05" stroke-width="1.0"/></g>
<g clip-path="url(#cm)" stroke="#6f90c0"><line x1="512.3" y1="317.4" x2="647.0" y2="325.5" stroke-opacity="0.04" stroke-width="1.0"/><line x1="511.2" y1="324.9" x2="604.2" y2="330.5" stroke-opacity="0.05" stroke-width="2.4"/><line x1="470.5" y1="328.1" x2="661.3" y2="339.6" stroke-opacity="0.05" stroke-width="2.4"/><line x1="512.8" y1="335.9" x2="640.5" y2="343.6" stroke-opacity="0.09" stroke-width="1.6"/><line x1="470.3" y1="345.5" x2="640.2" y2="355.7" stroke-opacity="0.05" stroke-width="1.0"/><line x1="522.1" y1="351.8" x2="649.3" y2="359.4" stroke-opacity="0.06" stroke-width="3.0"/><line x1="529.1" y1="360.0" x2="658.8" y2="367.8" stroke-opacity="0.09" stroke-width="3.0"/><line x1="458.9" y1="361.4" x2="608.3" y2="370.4" stroke-opacity="0.06" stroke-width="1.6"/><line x1="468.8" y1="369.0" x2="630.3" y2="378.7" stroke-opacity="0.09" stroke-width="1.0"/><line x1="509.2" y1="381.0" x2="631.8" y2="388.4" stroke-opacity="0.09" stroke-width="1.6"/></g>
<g clip-path="url(#cr)"><line x1="590.4" y1="255.3" x2="656.3" y2="306.1" stroke-opacity="0.04" stroke-width="3.0"/><line x1="562.3" y1="244.2" x2="677.9" y2="333.3" stroke-opacity="0.07" stroke-width="3.0"/><line x1="550.7" y1="241.9" x2="644.9" y2="314.4" stroke-opacity="0.05" stroke-width="1.0"/><line x1="573.6" y1="268.3" x2="694.3" y2="361.2" stroke-opacity="0.04" stroke-width="2.4"/><line x1="593.1" y1="293.1" x2="665.6" y2="348.9" stroke-opacity="0.07" stroke-width="1.0"/><line x1="548.3" y1="264.6" x2="685.9" y2="370.5" stroke-opacity="0.06" stroke-width="3.0"/><line x1="546.9" y1="274.2" x2="652.5" y2="355.5" stroke-opacity="0.09" stroke-width="3.0"/><line x1="567.1" y1="302.6" x2="695.2" y2="401.3" stroke-opacity="0.05" stroke-width="3.0"/><line x1="566.8" y1="306.1" x2="661.2" y2="378.8" stroke-opacity="0.09" stroke-width="2.4"/></g>
</g>

</g>

<g fill="none" stroke-width="2.78">
<g stroke="#ff0000"><circle cx="77.2" cy="155.3" r="6.94"/><circle cx="78.5" cy="164.9" r="6.94"/><circle cx="79.2" cy="170.5" r="6.94"/><circle cx="79.4" cy="175.5" r="6.94"/><circle cx="79.4" cy="178.0" r="6.94"/><circle cx="79.4" cy="180.3" r="6.94"/><circle cx="79.4" cy="184.5" r="6.94"/><circle cx="79.4" cy="189.0" r="6.94"/><circle cx="79.4" cy="191.5" r="6.94"/><circle cx="79.4" cy="194.0" r="6.94"/><circle cx="79.2" cy="198.0" r="6.94"/><circle cx="81.7" cy="211.3" r="6.94"/><circle cx="88.5" cy="221.7" r="6.94"/><circle cx="97.0" cy="216.0" r="6.94"/><circle cx="98.4" cy="231.6" r="6.94"/><circle cx="76.7" cy="227.3" r="6.94"/><circle cx="112.7" cy="193.2" r="6.94"/><circle cx="108.3" cy="199.6" r="6.94"/><circle cx="117.5" cy="196.9" r="6.94"/><circle cx="120.8" cy="201.8" r="6.94"/><circle cx="136.1" cy="213.3" r="6.94"/><circle cx="141.1" cy="217.2" r="6.94"/><circle cx="146.6" cy="221.0" r="6.94"/><circle cx="163.9" cy="235.6" r="6.94"/><circle cx="202.7" cy="280.4" r="6.94"/><circle cx="274.5" cy="323.5" r="6.94"/><circle cx="272.0" cy="325.6" r="6.94"/><circle cx="269.2" cy="327.9" r="6.94"/><circle cx="266.5" cy="329.7" r="6.94"/><circle cx="276.5" cy="336.1" r="6.94"/><circle cx="285.2" cy="339.8" r="6.94"/><circle cx="290.7" cy="343.4" r="6.94"/><circle cx="308.3" cy="320.0" r="6.94"/><circle cx="306.5" cy="356.0" r="6.94"/><circle cx="316.8" cy="350.7" r="6.94"/><circle cx="322.6" cy="347.1" r="6.94"/><circle cx="327.9" cy="344.1" r="6.94"/><circle cx="332.9" cy="341.4" r="6.94"/><circle cx="338.9" cy="338.1" r="6.94"/><circle cx="345.3" cy="334.6" r="6.94"/><circle cx="352.9" cy="329.0" r="6.94"/><circle cx="313.5" cy="361.0" r="6.94"/><circle cx="318.5" cy="364.4" r="6.94"/><circle cx="323.2" cy="367.0" r="6.94"/><circle cx="328.5" cy="370.1" r="6.94"/><circle cx="341.2" cy="378.5" r="6.94"/><circle cx="359.3" cy="366.1" r="6.94"/><circle cx="361.5" cy="391.2" r="6.94"/><circle cx="364.6" cy="290.8" r="6.94"/><circle cx="377.2" cy="293.6" r="6.94"/><circle cx="358.0" cy="298.5" r="6.94"/><circle cx="348.7" cy="300.7" r="6.94"/><circle cx="345.3" cy="314.6" r="6.94"/><circle cx="387.1" cy="304.0" r="6.94"/><circle cx="382.7" cy="308.4" r="6.94"/><circle cx="376.1" cy="312.2" r="6.94"/><circle cx="392.5" cy="329.8" r="6.94"/><circle cx="409.4" cy="315.9" r="6.94"/><circle cx="379.8" cy="333.8" r="6.94"/><circle cx="398.0" cy="336.6" r="6.94"/><circle cx="393.4" cy="340.0" r="6.94"/><circle cx="390.0" cy="343.4" r="6.94"/><circle cx="379.8" cy="350.2" r="6.94"/><circle cx="380.3" cy="353.5" r="6.94"/><circle cx="382.0" cy="356.5" r="6.94"/><circle cx="381.5" cy="361.6" r="6.94"/><circle cx="394.0" cy="367.5" r="6.94"/><circle cx="389.5" cy="371.0" r="6.94"/><circle cx="377.6" cy="380.6" r="6.94"/><circle cx="377.6" cy="384.1" r="6.94"/><circle cx="416.2" cy="358.0" r="6.94"/><circle cx="450.4" cy="284.1" r="6.94"/><circle cx="457.6" cy="301.1" r="6.94"/><circle cx="443.9" cy="321.3" r="6.94"/><circle cx="455.6" cy="331.9" r="6.94"/><circle cx="446.8" cy="335.8" r="6.94"/><circle cx="441.0" cy="339.2" r="6.94"/><circle cx="460.9" cy="343.0" r="6.94"/><circle cx="476.0" cy="286.6" r="6.94"/><circle cx="481.9" cy="283.2" r="6.94"/><circle cx="487.0" cy="279.0" r="6.94"/><circle cx="495.9" cy="273.0" r="6.94"/><circle cx="465.2" cy="362.6" r="6.94"/><circle cx="475.4" cy="365.7" r="6.94"/><circle cx="464.0" cy="371.1" r="6.94"/><circle cx="474.9" cy="378.0" r="6.94"/><circle cx="504.3" cy="387.8" r="6.94"/><circle cx="526.0" cy="386.3" r="6.94"/><circle cx="537.5" cy="390.7" r="6.94"/><circle cx="538.7" cy="334.5" r="6.94"/><circle cx="555.6" cy="382.2" r="6.94"/><circle cx="560.7" cy="390.2" r="6.94"/><circle cx="586.5" cy="312.0" r="6.94"/><circle cx="570.7" cy="324.1" r="6.94"/><circle cx="579.8" cy="331.8" r="6.94"/><circle cx="631.4" cy="335.7" r="6.94"/><circle cx="622.5" cy="346.9" r="6.94"/><circle cx="651.3" cy="310.7" r="6.94"/><circle cx="652.5" cy="338.8" r="6.94"/><circle cx="687.7" cy="292.7" r="6.94"/><circle cx="604.0" cy="363.3" r="6.94"/><circle cx="647.0" cy="363.1" r="6.94"/><circle cx="632.9" cy="378.1" r="6.94"/><circle cx="649.9" cy="389.6" r="6.94"/><circle cx="671.3" cy="378.1" r="6.94"/><circle cx="675.0" cy="375.3" r="6.94"/><circle cx="678.6" cy="373.0" r="6.94"/><circle cx="682.3" cy="369.9" r="6.94"/><circle cx="685.9" cy="366.2" r="6.94"/><circle cx="689.6" cy="362.6" r="6.94"/><circle cx="689.8" cy="319.0" r="6.94"/><circle cx="689.8" cy="327.8" r="6.94"/><circle cx="688.6" cy="336.5" r="6.94"/><circle cx="688.7" cy="348.5" r="6.94"/><circle cx="689.6" cy="356.2" r="6.94"/></g>
<g stroke="#ffa500"><circle cx="80.5" cy="202.1" r="6.94"/><circle cx="116.4" cy="204.3" r="6.94"/><circle cx="132.3" cy="210.6" r="6.94"/><circle cx="167.8" cy="239.8" r="6.94"/><circle cx="173.6" cy="249.7" r="6.94"/><circle cx="193.2" cy="261.6" r="6.94"/><circle cx="203.9" cy="271.4" r="6.94"/><circle cx="206.5" cy="274.4" r="6.94"/><circle cx="210.4" cy="277.0" r="6.94"/><circle cx="168.1" cy="283.3" r="6.94"/><circle cx="175.8" cy="279.0" r="6.94"/><circle cx="237.4" cy="300.1" r="6.94"/><circle cx="252.2" cy="311.0" r="6.94"/><circle cx="263.2" cy="331.1" r="6.94"/><circle cx="307.6" cy="308.1" r="6.94"/><circle cx="348.9" cy="285.6" r="6.94"/><circle cx="389.2" cy="282.3" r="6.94"/><circle cx="389.2" cy="285.7" r="6.94"/><circle cx="365.1" cy="320.7" r="6.94"/><circle cx="389.9" cy="321.2" r="6.94"/><circle cx="381.8" cy="325.0" r="6.94"/><circle cx="413.7" cy="296.4" r="6.94"/><circle cx="537.0" cy="291.2" r="6.94"/><circle cx="675.9" cy="323.2" r="6.94"/></g>
<g stroke="#00ffff"><circle cx="222.6" cy="305.7" r="6.94"/><circle cx="602.3" cy="321.1" r="6.94"/></g>
</g>
</g>
<g stroke="#000" stroke-width="1.11" fill="none">
<rect x="74.5" y="32.5" width="620" height="462"/>
<line x1="75.5" y1="494.5" x2="75.5" y2="499.5"/><line x1="161.5" y1="494.5" x2="161.5" y2="499.5"/><line x1="247.5" y1="494.5" x2="247.5" y2="499.5"/><line x1="334.5" y1="494.5" x2="334.5" y2="499.5"/><line x1="420.5" y1="494.5" x2="420.5" y2="499.5"/><line x1="506.5" y1="494.5" x2="506.5" y2="499.5"/><line x1="592.5" y1="494.5" x2="592.5" y2="499.5"/><line x1="678.5" y1="494.5" x2="678.5" y2="499.5"/><line x1="74.5" y1="494.5" x2="69.5" y2="494.5"/><line x1="74.5" y1="428.5" x2="69.5" y2="428.5"/><line x1="74.5" y1="363.5" x2="69.5" y2="363.5"/><line x1="74.5" y1="298.5" x2="69.5" y2="298.5"/><line x1="74.5" y1="232.5" x2="69.5" y2="232.5"/><line x1="74.5" y1="167.5" x2="69.5" y2="167.5"/><line x1="74.5" y1="102.5" x2="69.5" y2="102.5"/><line x1="74.5" y1="36.5" x2="69.5" y2="36.5"/>
</g>
<g font-size="13.89px" fill="#000">
<text x="75.51" y="514.6" text-anchor="middle">0</text><text x="161.62" y="514.6" text-anchor="middle">50</text><text x="247.73" y="514.6" text-anchor="middle">100</text><text x="333.84" y="514.6" text-anchor="middle">150</text><text x="419.96" y="514.6" text-anchor="middle">200</text><text x="506.07" y="514.6" text-anchor="middle">250</text><text x="592.18" y="514.6" text-anchor="middle">300</text><text x="678.29" y="514.6" text-anchor="middle">350</text>
<text x="64.8" y="499.73" text-anchor="end">0</text><text x="64.8" y="434.41" text-anchor="end">500</text><text x="64.8" y="369.08" text-anchor="end">1000</text><text x="64.8" y="303.75" text-anchor="end">1500</text><text x="64.8" y="238.42" text-anchor="end">2000</text><text x="64.8" y="173.09" text-anchor="end">2500</text><text x="64.8" y="107.77" text-anchor="end">3000</text><text x="64.8" y="42.44" text-anchor="end">3500</text>
<text x="384.5" y="535" text-anchor="middle">angle(theta) pixel</text>
<text transform="translate(19.5,264.5) rotate(-90)" text-anchor="middle">offset(rho) pixel</text>
</g>
<text x="385.0" y="23.5" font-size="16.67px" text-anchor="middle" fill="#000">MRT</text>
<g>
<rect x="327.9" y="39.45" width="113.6" height="67.4" rx="2.8" ry="2.8" fill="#ffffff" fill-opacity="0.8" stroke="#cccccc" stroke-opacity="0.8" stroke-width="1.11"/>
<g fill="none" stroke-width="2.78">
<circle cx="347.25" cy="51.63" r="6.94" stroke="#ff0000"/>
<circle cx="347.25" cy="72.6" r="6.94" stroke="#ffa500"/>
<circle cx="347.25" cy="93.48" r="6.94" stroke="#00ffff"/>
</g>
<g font-size="13.89px" fill="#000" letter-spacing="-0.2px">
<text x="373.2" y="56.2">status=0</text>
<text x="373.2" y="77.0">status=1</text>
<text x="373.2" y="97.9">status=2</text>
</g>
</g>
</svg>
</body></html>
